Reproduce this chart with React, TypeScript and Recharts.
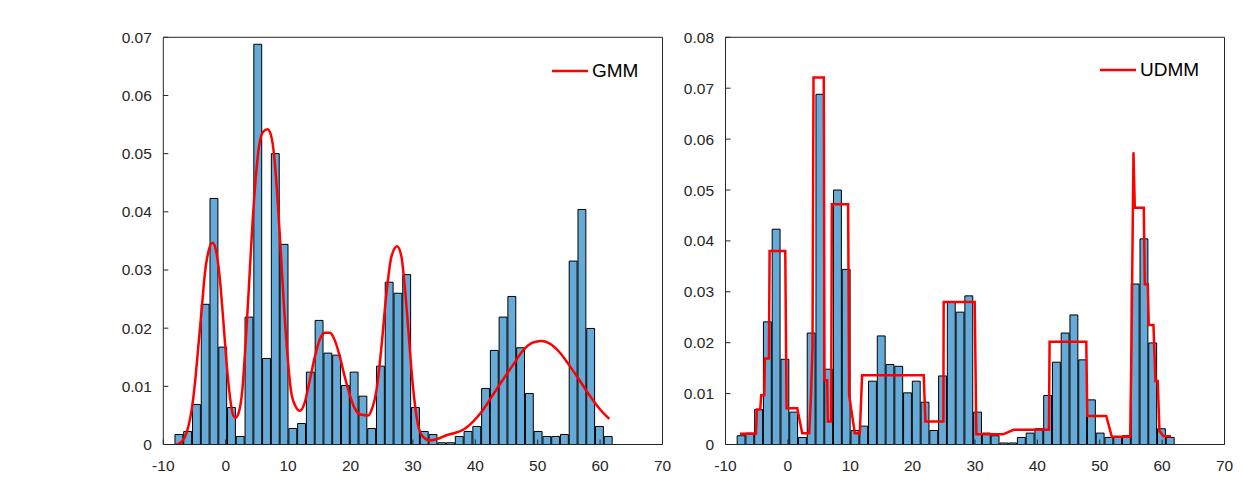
import React from 'react';
import { ComposedChart, Bar, Line, XAxis, YAxis, Legend } from 'recharts';

// histogram bins (same sample in both panels)
const BIN_WIDTH = 1.404;
const BIN_CENTERS = [
  -7.428, -6.024, -4.62, -3.216, -1.812, -0.408, 0.996, 2.4, 3.804, 5.208,
  6.612, 8.016, 9.42, 10.824, 12.228, 13.632, 15.036, 16.44, 17.844, 19.248,
  20.652, 22.056, 23.46, 24.864, 26.268, 27.672, 29.076, 30.48, 31.884, 33.288,
  34.692, 36.096, 37.5, 38.904, 40.308, 41.712, 43.116, 44.52, 45.924, 47.328,
  48.732, 50.136, 51.54, 52.944, 54.348, 55.752, 57.156, 58.56, 59.964, 61.368,
];
const BIN_DENSITY = [
  0.00172, 0.00224, 0.00688, 0.0241, 0.0423, 0.01674, 0.00636, 0.00138, 0.0219, 0.0688,
  0.01479, 0.05, 0.0344, 0.00275, 0.00361, 0.01244, 0.02133, 0.01571, 0.01536, 0.01015,
  0.01244, 0.00831, 0.00275, 0.01347, 0.0279, 0.026, 0.0292, 0.00636, 0.00224, 0.00172,
  0.0003, 0.0003, 0.00138, 0.00224, 0.0031, 0.00963, 0.01617, 0.0219, 0.02545, 0.01663,
  0.00877, 0.00224, 0.00138, 0.00138, 0.00172, 0.03153, 0.0404, 0.01995, 0.0031, 0.00138,
];

// GMM density curve
const GMM_X = [
  -7.86, -7.06, -6.53, -6.0, -5.46, -4.93, -4.39, -3.86, -3.33, -2.79,
  -2.1, -1.45, -0.92, -0.39, 0.15, 0.68, 1.21, 1.59, 2.12, 2.66,
  3.19, 3.72, 4.26, 4.79, 5.33, 6.02, 6.72, 7.25, 7.78, 8.32,
  8.85, 9.38, 9.92, 10.45, 11.09, 11.89, 12.69, 13.49, 14.29, 15.09,
  15.89, 16.69, 17.49, 18.29, 19.09, 19.89, 20.69, 21.49, 22.83, 23.36,
  24.16, 24.96, 25.76, 26.56, 27.47, 28.16, 28.7, 29.23, 29.77, 30.3,
  30.84, 31.64, 32.71, 33.78, 35.38, 36.4, 38.0, 39.6, 41.2, 42.8,
  44.4, 46.0, 47.6, 49.2, 50.53, 51.87, 53.47, 55.07, 56.67, 58.27,
  59.87, 61.48,
];
const GMM_Y = [
  0, 0.0005, 0.0013, 0.003, 0.0059, 0.0105, 0.0168, 0.0231, 0.0294, 0.0331,
  0.0347, 0.0328, 0.0283, 0.0214, 0.0139, 0.0082, 0.005, 0.0046, 0.0056, 0.0093,
  0.0174, 0.0271, 0.0374, 0.0455, 0.0512, 0.0538, 0.0542, 0.0532, 0.0495, 0.042,
  0.0328, 0.0231, 0.0151, 0.0093, 0.0068, 0.0058, 0.0073, 0.0111, 0.0151, 0.0181,
  0.0192, 0.0192, 0.0179, 0.0151, 0.0116, 0.0085, 0.0062, 0.0052, 0.005, 0.0059,
  0.0093, 0.0168, 0.026, 0.0323, 0.0341, 0.0323, 0.0271, 0.0202, 0.0128, 0.0071,
  0.0033, 0.0013, 0.0007, 0.0009, 0.0016, 0.0019, 0.0025, 0.0039, 0.0059, 0.0085,
  0.0111, 0.0136, 0.0161, 0.0175, 0.0178, 0.0174, 0.0159, 0.0136, 0.0111, 0.0085,
  0.0062, 0.0044,
];

// UDMM density (piecewise)
const UDMM_X = [
  -7.68, -5.12, -4.96, -4.43, -4.27, -3.79, -3.68, -3.04, -2.93, -0.42,
  -0.21, 1.5, 2.3, 3.42, 3.69, 3.95, 4.11, 5.76, 5.87, 6.3,
  6.4, 6.94, 7.05, 9.66, 9.82, 10.73, 11.53, 11.9, 21.78, 22.05,
  24.93, 24.98, 29.95, 30.22, 34.49, 36.2, 41.85, 41.96, 47.84, 48.0,
  51.04, 51.94, 54.88, 55.09, 55.41, 55.62, 57.06, 57.22, 57.7, 57.86,
  58.61, 58.93, 59.3, 59.57, 60.21, 61.44,
];
const UDMM_Y = [
  0.0021, 0.0021, 0.0069, 0.0069, 0.0097, 0.0097, 0.0169, 0.0169, 0.038, 0.038,
  0.0071, 0.0071, 0.0022, 0.0022, 0.009, 0.0192, 0.0721, 0.0721, 0.0126, 0.0126,
  0.0045, 0.0045, 0.0472, 0.0472, 0.0097, 0.0022, 0.0022, 0.0136, 0.0136, 0.0045,
  0.0045, 0.028, 0.028, 0.002, 0.002, 0.0029, 0.0029, 0.0202, 0.0202, 0.0056,
  0.0056, 0.0015, 0.0015, 0.0199, 0.0574, 0.0465, 0.0465, 0.0315, 0.0315, 0.0235,
  0.0235, 0.0125, 0.0125, 0.0027, 0.0016, 0.0016,
];

const X_TICKS = [-10, 0, 10, 20, 30, 40, 50, 60, 70];
const Y_TICKS_LEFT = [0, 0.01, 0.02, 0.03, 0.04, 0.05, 0.06, 0.07];
const Y_TICKS_RIGHT = [0, 0.01, 0.02, 0.03, 0.04, 0.05, 0.06, 0.07, 0.08];

const FONT = '"Liberation Sans", Arial, Helvetica, sans-serif';
const AXIS = '#262626';
const BAR_FILL = '#66AAD7';
const PLOT_W = 500;

const bins = BIN_CENTERS.map((x, i) => ({ x, y: BIN_DENSITY[i] }));
const gmm = GMM_X.map((x, i) => ({ x, y: GMM_Y[i] }));
const udmm = UDMM_X.map((x, i) => ({ x, y: UDMM_Y[i] }));

const fmtY = (v: number) => (v === 0 ? '0' : v.toFixed(2));

const LegendBox = ({ label }: { label: string }) => (
  <div style={{ display: 'flex', alignItems: 'center', height: 24, fontFamily: FONT }}>
    <svg width={40} height={24}>
      <line x1={1} y1={12} x2={37} y2={12} stroke="#ff0000" strokeWidth={2.5} />
    </svg>
    <span style={{ fontSize: 19, color: '#000', lineHeight: '24px', marginLeft: 1 }}>{label}</span>
  </div>
);

type PanelProps = {
  left: number;
  width: number;
  marginLeft: number;
  marginRight: number;
  yMax: number;
  yTicks: number[];
  curve: { x: number; y: number }[];
  curveType: 'monotone' | 'linear';
  label: string;
  legendLeft: number;
  legendTop: number;
};

const Panel = (p: PanelProps) => {
  const tickStyle = { fill: AXIS, fontSize: 15.5, fontFamily: FONT };
  return (
    <div style={{ position: 'absolute', left: p.left, top: 0 }}>
      <ComposedChart
        width={p.width}
        height={500}
        data={bins}
        margin={{ top: 36.3, right: p.marginRight, bottom: 25.5, left: p.marginLeft }}
        barCategoryGap={0}
        barGap={0}
        style={{ fontFamily: FONT }}
      >
        <XAxis
          xAxisId="bins"
          dataKey="x"
          type="number"
          domain={[-10, 70]}
          ticks={X_TICKS}
          allowDataOverflow
          height={30}
          stroke={AXIS}
          tickSize={-5}
          tickMargin={20}
          tick={tickStyle}
          interval={0}
        />
        <XAxis
          xAxisId="curve"
          dataKey="x"
          type="number"
          orientation="top"
          domain={[-10, 70]}
          ticks={X_TICKS}
          allowDataOverflow
          height={1}
          stroke={AXIS}
          tickSize={-5}
          tick={false}
          interval={0}
        />
        <YAxis
          yAxisId="l"
          type="number"
          domain={[0, p.yMax]}
          ticks={p.yTicks}
          allowDataOverflow
          width={60}
          stroke={AXIS}
          tickSize={-5}
          tickMargin={16.5}
          tick={tickStyle}
          tickFormatter={fmtY}
          interval={0}
        />
        <YAxis
          yAxisId="r"
          orientation="right"
          type="number"
          domain={[0, p.yMax]}
          ticks={p.yTicks}
          allowDataOverflow
          width={1}
          stroke={AXIS}
          tickSize={-5}
          tick={false}
          interval={0}
        />
        <Bar
          xAxisId="bins"
          yAxisId="l"
          dataKey="y"
          fill={BAR_FILL}
          stroke="#000"
          strokeWidth={1}
          barSize={(PLOT_W / 80) * BIN_WIDTH}
          isAnimationActive={false}
        />
        <Line
          xAxisId="curve"
          yAxisId="l"
          data={p.curve}
          dataKey="y"
          type={p.curveType}
          stroke="#ff0000"
          strokeWidth={2.5}
          dot={false}
          activeDot={false}
          isAnimationActive={false}
        />
        <Legend
          layout="vertical"
          align="center"
          verticalAlign="middle"
          wrapperStyle={{ left: p.legendLeft, top: p.legendTop, width: 'auto' }}
          content={() => <LegendBox label={p.label} />}
        />
      </ComposedChart>
    </div>
  );
};

export default function App() {
  return (
    <div style={{ position: 'absolute', left: 0, top: 0, width: 1250, height: 500, background: '#fff' }}>
      <Panel
        left={0}
        width={700}
        marginLeft={103.3}
        marginRight={36.5}
        yMax={0.07}
        yTicks={Y_TICKS_LEFT}
        curve={gmm}
        curveType="monotone"
        label="GMM"
        legendLeft={551}
        legendTop={59}
      />
      <Panel
        left={625}
        width={625}
        marginLeft={40.5}
        marginRight={24.5}
        yMax={0.08}
        yTicks={Y_TICKS_RIGHT}
        curve={udmm}
        curveType="linear"
        label="UDMM"
        legendLeft={474}
        legendTop={58}
      />
    </div>
  );
}
